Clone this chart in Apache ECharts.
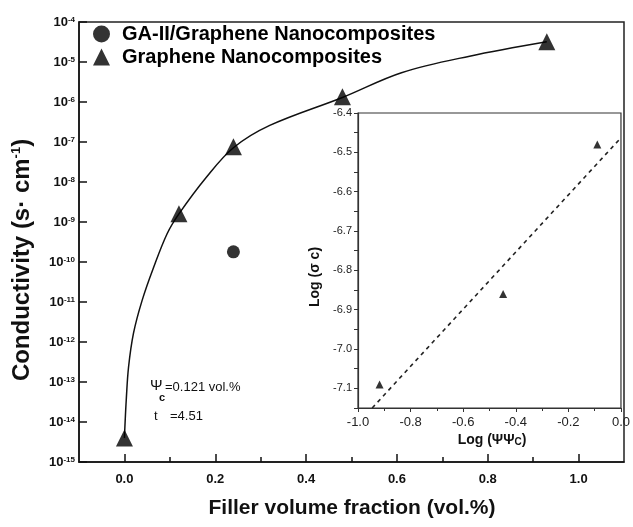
<!DOCTYPE html>
<html>
<head>
<meta charset="utf-8">
<script src="https://cdn.jsdelivr.net/npm/echarts@6/dist/echarts.min.js"></script>
<style>
  html, body { margin: 0; padding: 0; background: #fff; }
  #chart { width: 633px; height: 527px; }
</style>
</head>
<body>
<div id="chart"></div>
<script>
// main panel: conductivity vs filler fraction
const fitX = [0, 0.001, 0.004, 0.009, 0.02, 0.039, 0.064, 0.094, 0.12, 0.18, 0.24, 0.32, 0.48, 0.61, 0.76, 0.93]
const fitY = [4.0e-15, 7.4e-15, 3.5e-14, 2.3e-13, 1.66e-12, 1.1e-11, 7.2e-11, 5.1e-10, 1.6e-9, 1.3e-8, 7.2e-8, 2.6e-7, 1.3e-6, 5.4e-6, 1.4e-5, 3.2e-5]
const grapheneX = [0, 0.12, 0.24, 0.48, 0.93]
const grapheneY = [4.0e-15, 1.6e-9, 7.6e-8, 1.35e-6, 3.2e-5]
const gaX = [0.24]
const gaY = [1.8e-10]
const mainMajorTicks = [0, 0.2, 0.4, 0.6, 0.8, 1.0]
const mainMinorTicks = [0.1, 0.3, 0.5, 0.7, 0.9]

// inset: log-log plot
const insetX = [-0.918, -0.448, -0.09]
const insetY = [-7.09, -6.86, -6.48]
const insetFitX = [-0.946, 0]
const insetFitY = [-7.15, -6.463]
const insetYLabels = [-7.1, -7.0, -6.9, -6.8, -6.7, -6.6, -6.5, -6.4]
const insetYTicks = [-7.15, -7.1, -7.05, -7.0, -6.95, -6.9, -6.85, -6.8, -6.75, -6.7, -6.65, -6.6, -6.55, -6.5, -6.45, -6.4]

const FONT = 'Liberation Sans, Arial, sans-serif'
const zip = (xs, ys) => xs.map((x, i) => [x, ys[i]])

const chart = echarts.init(document.getElementById('chart'), null, { renderer: 'canvas' })

chart.setOption({
  animation: false,
  backgroundColor: '#fff',
  grid: [
    { left: 79, top: 22, right: 9, bottom: 65, show: true, borderColor: '#222', borderWidth: 1.5, backgroundColor: 'transparent' },
    { left: 358, top: 113, right: 9, bottom: 119, show: true, borderColor: '#333', borderWidth: 1.2, backgroundColor: '#fff' },
  ],
  legend: {
    orient: 'vertical',
    left: 88,
    top: 19,
    itemGap: 3,
    itemWidth: 17,
    itemHeight: 17,
    data: ['GA-II/Graphene Nanocomposites', 'Graphene Nanocomposites'],
    textStyle: { color: '#000', fontSize: 20, fontWeight: 'bold', fontFamily: FONT, padding: [0, 0, 0, 7] },
  },
  xAxis: [
    {
      type: 'value', gridIndex: 0, min: -0.1, max: 1.1, position: 'bottom',
      axisLine: { onZero: false, lineStyle: { color: '#111', width: 1.5 } },
      axisTick: { inside: true, length: 8, customValues: mainMajorTicks, lineStyle: { color: '#111', width: 1.5 } },
      axisLabel: {
        customValues: mainMajorTicks, margin: 11, color: '#111', fontSize: 13, fontWeight: 'bold', fontFamily: FONT,
        formatter: (v) => v.toFixed(1),
      },
      splitLine: { show: false },
    },
    {
      type: 'value', gridIndex: 0, min: -0.1, max: 1.1, position: 'bottom',
      axisLine: { show: false, onZero: false },
      axisTick: { inside: true, length: 5, customValues: mainMinorTicks, lineStyle: { color: '#111', width: 1.5 } },
      axisLabel: { show: false },
      splitLine: { show: false },
    },
    {
      type: 'value', gridIndex: 1, min: -1, max: 0, interval: 0.2, position: 'bottom',
      axisLine: { onZero: false, lineStyle: { color: '#333', width: 1.2 } },
      axisTick: { length: 4, lineStyle: { color: '#333' } },
      minorTick: { show: true, splitNumber: 2, length: 3, lineStyle: { color: '#333' } },
      axisLabel: {
        margin: 8, color: '#222', fontSize: 13, fontFamily: FONT,
        formatter: (v) => v.toFixed(1),
      },
      splitLine: { show: false },
    },
  ],
  yAxis: [
    {
      type: 'log', gridIndex: 0, min: 1e-15, max: 1e-4, logBase: 10, interval: 1,
      axisLine: { onZero: false, lineStyle: { color: '#111', width: 1.5 } },
      axisTick: { inside: true, length: 8, lineStyle: { color: '#111', width: 1.5 } },
      axisLabel: {
        margin: 4, color: '#111',
        formatter: (v) => '{b|10}{s|' + Math.round(Math.log10(v)) + '}',
        rich: {
          b: { fontSize: 13, fontWeight: 'bold', fontFamily: FONT, color: '#111', verticalAlign: 'bottom' },
          s: { fontSize: 8, fontWeight: 'bold', fontFamily: FONT, color: '#111', verticalAlign: 'top' },
        },
      },
      splitLine: { show: false },
      minorTick: { show: false },
    },
    {
      type: 'value', gridIndex: 1, min: -7.15, max: -6.4,
      axisLine: { onZero: false, lineStyle: { color: '#333', width: 1.2 } },
      axisTick: { length: 4, customValues: insetYTicks, lineStyle: { color: '#333' } },
      axisLabel: {
        customValues: insetYLabels, margin: 6, color: '#222', fontSize: 11, fontFamily: FONT,
        formatter: (v) => v.toFixed(1),
      },
      splitLine: { show: false },
    },
  ],
  series: [
    {
      type: 'line', xAxisIndex: 0, yAxisIndex: 0, data: zip(fitX, fitY),
      smooth: 0.35, symbol: 'none', lineStyle: { color: '#111', width: 1.5 }, silent: true, z: 2,
    },
    {
      name: 'GA-II/Graphene Nanocomposites', type: 'scatter', xAxisIndex: 0, yAxisIndex: 0,
      data: zip(gaX, gaY), symbol: 'circle', symbolSize: 13, itemStyle: { color: '#000' }, z: 3,
    },
    {
      name: 'Graphene Nanocomposites', type: 'scatter', xAxisIndex: 0, yAxisIndex: 0,
      data: zip(grapheneX, grapheneY), symbol: 'triangle', symbolSize: 17, itemStyle: { color: '#000' }, z: 3,
    },
    {
      type: 'line', xAxisIndex: 2, yAxisIndex: 1, data: zip(insetFitX, insetFitY),
      symbol: 'none', lineStyle: { color: '#222', width: 1.6, type: [4, 4] }, silent: true, z: 4,
    },
    {
      type: 'scatter', xAxisIndex: 2, yAxisIndex: 1, data: zip(insetX, insetY),
      symbol: 'triangle', symbolSize: 8, itemStyle: { color: '#000' }, z: 5,
    },
  ],
  graphic: [
    {
      type: 'text', x: 22, y: 260, rotation: Math.PI / 2,
      style: {
        text: '{t|Conductivity (s· cm}{s|-1}{t|)}',
        align: 'center', verticalAlign: 'middle',
        rich: {
          t: { fontSize: 24, fontWeight: 'bold', fontFamily: FONT, fill: '#111', verticalAlign: 'bottom' },
          s: { fontSize: 13, fontWeight: 'bold', fontFamily: FONT, fill: '#111', verticalAlign: 'top' },
        },
      },
    },
    {
      type: 'text', x: 352, y: 508,
      style: {
        text: 'Filler volume fraction (vol.%)', align: 'center', verticalAlign: 'middle',
        fontSize: 21, fontWeight: 'bold', fontFamily: FONT, fill: '#111',
      },
    },
    {
      type: 'text', x: 315, y: 277, rotation: Math.PI / 2, z: 10,
      style: {
        text: 'Log (σ c)', align: 'center', verticalAlign: 'middle',
        fontSize: 14, fontWeight: 'bold', fontFamily: FONT, fill: '#111',
      },
    },
    {
      type: 'text', x: 492, y: 440, z: 10,
      style: {
        text: '{t|Log (ΨΨ}{c|C}{t|)}', align: 'center', verticalAlign: 'middle',
        rich: {
          t: { fontSize: 14, fontWeight: 'bold', fontFamily: FONT, fill: '#111', verticalAlign: 'top' },
          c: { fontSize: 10, fontWeight: 'bold', fontFamily: FONT, fill: '#111', verticalAlign: 'bottom' },
        },
      },
    },
    { type: 'text', x: 150, y: 386, z: 10, style: { text: 'Ψ', verticalAlign: 'middle', fontSize: 15, fontFamily: FONT, fill: '#111' } },
    { type: 'text', x: 159, y: 398, z: 10, style: { text: 'c', verticalAlign: 'middle', fontSize: 11, fontWeight: 'bold', fontFamily: FONT, fill: '#111' } },
    { type: 'text', x: 165, y: 387, z: 10, style: { text: '=0.121 vol.%', verticalAlign: 'middle', fontSize: 13, fontFamily: FONT, fill: '#111' } },
    { type: 'text', x: 154, y: 416, z: 10, style: { text: 't', verticalAlign: 'middle', fontSize: 13, fontFamily: FONT, fill: '#111' } },
    { type: 'text', x: 170, y: 416, z: 10, style: { text: '=4.51', verticalAlign: 'middle', fontSize: 13, fontFamily: FONT, fill: '#111' } },
  ],
})
</script>
</body>
</html>
